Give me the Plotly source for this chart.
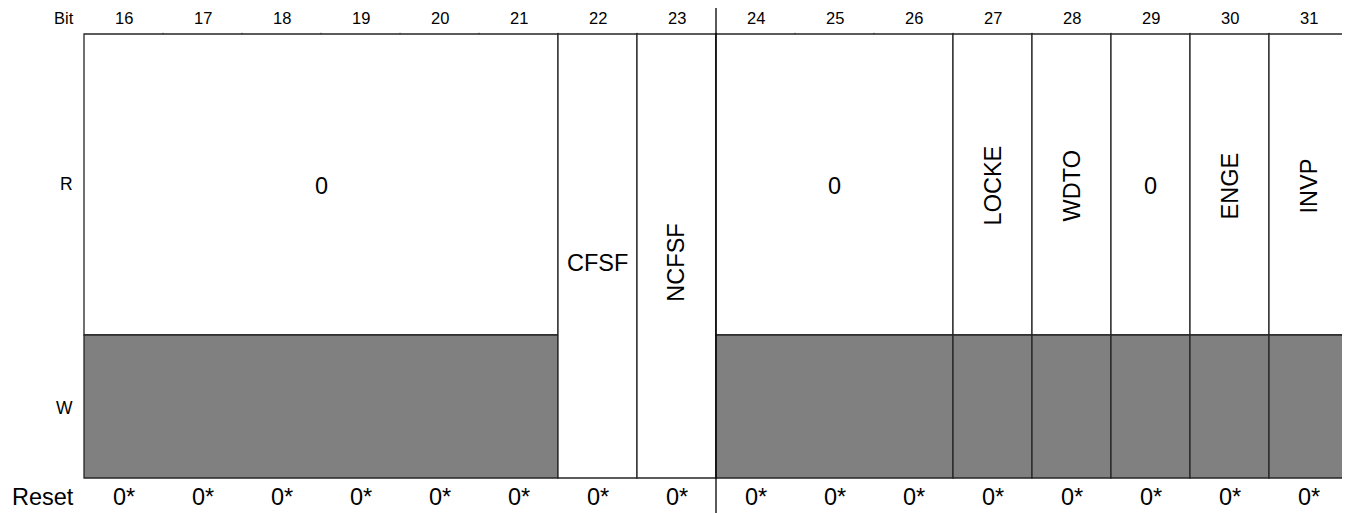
import plotly.graph_objects as go

# ---- data ----
bits = list(range(16, 32))
field_names = ["0", "CFSF", "NCFSF", "0", "LOCKE", "WDTO", "0", "ENGE", "INVP"]
field_lsb = [16, 22, 23, 24, 27, 28, 29, 30, 31]
field_msb = [21, 22, 23, 26, 27, 28, 29, 30, 31]
field_rotated = [False, False, True, False, True, True, False, True, True]
field_span_rw = [False, True, True, False, False, False, False, False, False]  # one cell covering R and W
reset_values = ["0*"] * 16
row_labels = ["R", "W"]

# ---- style / geometry in axis units ----
W_BOT, W_TOP, R_TOP = 0.0, 1.0, 3.105
FIG_TOP = 470 / 143
LINE = "#262626"
GRAY = "#808080"
FONT = "Liberation Sans, Arial, Helvetica, sans-serif"
BIG = 23.5
SMALL = 16.5

fig = go.Figure()
shapes = []
annotations = []

def col(b):
    return b - 16

for name, lsb, msb, rot, span in zip(field_names, field_lsb, field_msb, field_rotated, field_span_rw):
    x0, x1 = col(lsb), col(msb) + 1
    if span:
        shapes.append(dict(type="rect", x0=x0, x1=x1, y0=W_BOT, y1=R_TOP,
                           fillcolor="white", line=dict(color=LINE, width=1.3), layer="below"))
        ty = (W_BOT + R_TOP) / 2 - 0.05
    else:
        shapes.append(dict(type="rect", x0=x0, x1=x1, y0=W_TOP, y1=R_TOP,
                           fillcolor="white", line=dict(color=LINE, width=1.3), layer="below"))
        shapes.append(dict(type="rect", x0=x0, x1=x1, y0=W_BOT, y1=W_TOP,
                           fillcolor=GRAY, line=dict(color=LINE, width=1.3), layer="below"))
        ty = (W_TOP + R_TOP) / 2 - 0.01
    annotations.append(dict(x=(x0 + x1) / 2, y=ty, text=name, showarrow=False,
                            textangle=-90 if rot else 0,
                            font=dict(family=FONT, size=BIG, color="black"),
                            xanchor="center", yanchor="middle"))

# tiny ticks on top border at each bit boundary
for b in bits[1:]:
    shapes.append(dict(type="line", x0=col(b), x1=col(b), y0=R_TOP, y1=R_TOP + 0.008,
                       line=dict(color=LINE, width=1)))

# half-word divider line
shapes.append(dict(type="line", x0=8, x1=8, y0=-0.25, y1=3.4,
                   line=dict(color="black", width=1.3)))

# bit numbers and reset values
for b, rv in zip(bits, reset_values):
    annotations.append(dict(x=col(b) + 0.5, y=FIG_TOP, text=str(b), showarrow=False,
                            font=dict(family=FONT, size=SMALL, color="black"),
                            xanchor="center", yanchor="top", borderpad=0))
    annotations.append(dict(x=col(b) + 0.5, y=-0.133, text=rv, showarrow=False,
                            font=dict(family=FONT, size=BIG, color="black"),
                            xanchor="center", yanchor="middle"))

# row labels
lab_x = -0.12
annotations.append(dict(x=lab_x, y=FIG_TOP, text="Bit", showarrow=False,
                        font=dict(family=FONT, size=SMALL, color="black"),
                        xanchor="right", yanchor="top", borderpad=0))
annotations.append(dict(x=lab_x, y=(W_TOP + R_TOP) / 2 + 0.005, text=row_labels[0], showarrow=False,
                        font=dict(family=FONT, size=17.5, color="black"), xanchor="right", yanchor="middle"))
annotations.append(dict(x=lab_x, y=(W_BOT + W_TOP) / 2 - 0.01, text=row_labels[1], showarrow=False,
                        font=dict(family=FONT, size=17.5, color="black"), xanchor="right", yanchor="middle"))
annotations.append(dict(x=lab_x + 0.02, y=-0.133, text="Reset", showarrow=False,
                        font=dict(family=FONT, size=BIG, color="black"), xanchor="right", yanchor="middle"))

# page has an 8px body margin: figure occupies page pixels 8..1350 x 8..513
fig.update_layout(
    width=1342, height=505,
    margin=dict(l=0, r=0, t=0, b=0),
    paper_bgcolor="white", plot_bgcolor="white",
    shapes=shapes, annotations=annotations,
    showlegend=False,
    xaxis=dict(range=[-76 / 79, 1266 / 79], visible=False, fixedrange=True),
    yaxis=dict(range=[-35 / 143, FIG_TOP], visible=False, fixedrange=True),
)

fig.write_html("out.html")
